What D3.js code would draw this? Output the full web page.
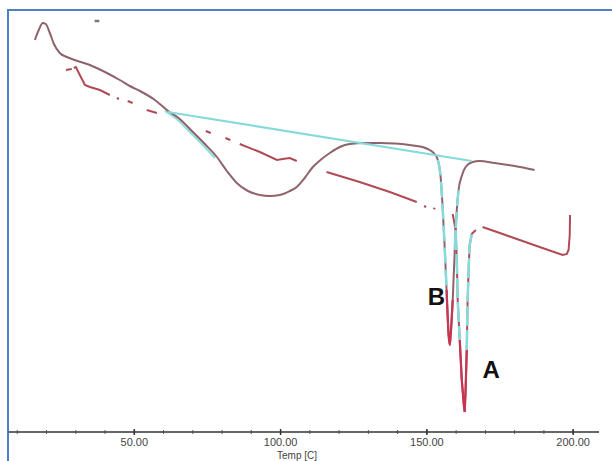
<!DOCTYPE html>
<html>
<head>
<meta charset="utf-8">
<script src="https://cdn.jsdelivr.net/npm/d3@7"></script>
<style>
  body { margin: 0; background: #fff; }
  text { font-family: "Liberation Sans", Arial, sans-serif; }
</style>
</head>
<body>
<div id="chart"></div>
<script>
// DSC thermogram, temperature in C, heat flow in arbitrary units (no y axis shown)

// curve B - solid trace with the broad endotherm near 95 C
var bTemp = [16.2,17.5,18.9,19.9,21.3,22.7,24.7,27.1,29.8,35.0,40.8,45.2,48.6,52.1,57.2,61.3,65.7,70.2,74.3,78.4,
  81.8,85.2,89.0,93.1,96.5,99.9,103.3,105.7,108.4,111.2,114.2,117.0,120.4,123.8,128.9,134.1,139.2,144.3,148.7,151.1,
  152.8,153.9,154.9,155.6,156.3,156.9,157.3,157.6,158.0,158.3,159.0,159.7,160.4,161.0,162.1,163.4,165.8,168.2,173.3,180.2,187.0];
var bFlow = [39.2,40.2,40.9,40.8,39.9,38.8,37.9,37.5,37.2,36.7,35.9,35.2,34.6,34.1,33.2,32.2,31.3,30.0,28.8,27.5,
  26.1,24.9,24.1,23.7,23.6,23.7,24.1,24.5,25.4,26.5,27.3,27.9,28.5,28.8,28.9,28.9,28.85,28.7,28.5,28.2,
  27.8,27.2,25.4,22.2,18.2,14.2,11.4,9.7,8.7,9.7,13.2,18.2,22.2,24.2,25.6,26.5,27.0,27.1,26.9,26.6,26.2];

// curve A - broken (dash-dot) trace, null = gap in the recorded line
var aTemp = [26.8,28.8,null,29.5,30.2,31.2,33.3,35.0,38.4,41.8,null,44.2,44.9,null,47.9,49.6,null,54.4,57.9,null,
  74.6,76.3,null,81.3,83.0,null,86.2,93.1,98.9,100.9,103.3,105.7,null,115.9,127.2,137.5,146.7,null,149.2,149.9,null,
  152.4,153.0,null,159.0,160.0,160.4,160.7,161.4,162.1,162.8,163.1,163.4,163.8,164.1,164.5,164.8,165.5,166.9,null,
  169.2,175.1,181.9,188.7,196.6,198.0,198.6,199.0,199.1];
var aFlow = [36.2,36.3,null,36.4,36.5,35.9,34.7,34.5,34.2,33.7,null,33.4,33.3,null,33.1,32.9,null,32.2,31.9,null,
  30.1,29.9,null,29.4,29.2,null,28.8,28.0,27.2,27.3,27.4,27.1,null,26.0,25.0,24.0,23.0,null,22.6,22.5,null,
  22.4,22.3,null,21.8,20.2,17.2,13.2,9.2,5.2,2.7,2.0,4.2,8.2,13.2,16.7,18.7,19.8,20.2,null,
  20.5,19.9,19.2,18.5,17.7,17.8,18.2,19.7,21.7];

// integration baseline drawn by the software
var baseTemp = [61.6, 165.5];
var baseFlow = [32.0, 27.1];

// small stray mark near top
var markTemp = [36.6, 38.2];
var markFlow = [41.1, 41.1];

var majorTicks = [50, 100, 150, 200];
var minorTicks = d3.range(10, 210, 10);

var peakLabels = [
  {name: "B", t: 150.5, v: 12.7},
  {name: "A", t: 169.2, v: 5.4}
];

var svgWidth = 612, svgHeight = 461;
var axisY = 432;

var svg = d3.select("#chart").append("svg")
  .attr("width", svgWidth)
  .attr("height", svgHeight);

var x = d3.scaleLinear().domain([7, 209]).range([8, 599]);
var y = d3.scaleLinear().domain([0, 42.2]).range([axisY, 10]);

var bData = bTemp.map(function(t, i) { return {t: t, v: bFlow[i]}; });
var aData = aTemp.map(function(t, i) { return {t: t, v: aFlow[i]}; });
var baseData = baseTemp.map(function(t, i) { return {t: t, v: baseFlow[i]}; });
var markData = markTemp.map(function(t, i) { return {t: t, v: markFlow[i]}; });

function lineWhere(pred, curve) {
  return d3.line()
    .defined(function(d) { return d.v != null && pred(d); })
    .x(function(d) { return x(d.t); })
    .y(function(d) { return y(d.v); })
    .curve(curve || d3.curveLinear);
}
var all = function() { return true; };

// frame
svg.append("rect")
  .attr("x", 8).attr("y", 10)
  .attr("width", 620).attr("height", 470)
  .attr("fill", "none")
  .attr("stroke", "#4f7fc4")
  .attr("stroke-width", 2);

// cyan following curve B at start of the broad peak (slightly offset)
svg.append("path")
  .datum(bData)
  .attr("d", lineWhere(function(d) { return d.t >= 61 && d.t <= 79; }, d3.curveMonotoneX))
  .attr("transform", "translate(-2,1)")
  .attr("fill", "none")
  .attr("stroke", "#8fdedd")
  .attr("stroke-width", 2);

// curve B
svg.append("path")
  .datum(bData)
  .attr("d", lineWhere(all, d3.curveMonotoneX))
  .attr("fill", "none")
  .attr("stroke", "#8e6369")
  .attr("stroke-width", 2);

// curve A
svg.append("path")
  .datum(aData)
  .attr("d", lineWhere(all))
  .attr("fill", "none")
  .attr("stroke", "#b04a57")
  .attr("stroke-width", 2);

// baseline
svg.append("path")
  .datum(baseData)
  .attr("d", lineWhere(all))
  .attr("fill", "none")
  .attr("stroke", "#86dadb")
  .attr("stroke-width", 2.2);

// cyan on the peak flanks
svg.append("path")
  .datum(bData)
  .attr("d", lineWhere(function(d) { return d.t >= 153.5 && d.t <= 161.5 && d.v >= 14; }, d3.curveMonotoneX))
  .attr("fill", "none")
  .attr("stroke", "#86dadb")
  .attr("stroke-width", 2.5)
  .attr("stroke-dasharray", "16 6");

svg.append("path")
  .datum(aData)
  .attr("d", lineWhere(function(d) { return d.t >= 159.5 && d.t <= 166 && d.v >= 8; }))
  .attr("fill", "none")
  .attr("stroke", "#86dadb")
  .attr("stroke-width", 2.5)
  .attr("stroke-dasharray", "20 4");

// red tips of the melting peaks
svg.append("path")
  .datum(bData)
  .attr("d", lineWhere(function(d) { return d.t >= 156.5 && d.t <= 159.5 && d.v <= 16; }, d3.curveMonotoneX))
  .attr("fill", "none")
  .attr("stroke", "#c63552")
  .attr("stroke-width", 2.2);

svg.append("path")
  .datum(aData)
  .attr("d", lineWhere(function(d) { return d.t >= 161 && d.t <= 164.2 && d.v <= 10; }))
  .attr("fill", "none")
  .attr("stroke", "#c63552")
  .attr("stroke-width", 2.2);

// stray mark
svg.append("path")
  .datum(markData)
  .attr("d", lineWhere(all))
  .attr("fill", "none")
  .attr("stroke", "#777")
  .attr("stroke-width", 2.5);

// peak labels
svg.selectAll(".peak")
  .data(peakLabels)
  .enter()
  .append("text")
  .attr("class", "peak")
  .attr("x", function(d) { return x(d.t); })
  .attr("y", function(d) { return y(d.v); })
  .attr("font-size", "24px")
  .attr("font-weight", "bold")
  .attr("fill", "#111")
  .text(function(d) { return d.name; });

// x axis
var axisG = svg.append("g")
  .attr("transform", "translate(0," + axisY + ")");

axisG.append("line")
  .attr("x1", x.range()[0]).attr("x2", x.range()[1])
  .attr("stroke", "#666")
  .attr("stroke-width", 2);

axisG.append("g")
  .call(d3.axisBottom(x).tickValues(minorTicks).tickSize(2).tickFormat(""))
  .call(function(g) {
    g.select(".domain").remove();
    g.selectAll(".tick line").attr("y1", -2).attr("stroke", "#555");
  });

var majorAxis = axisG.append("g")
  .call(d3.axisBottom(x).tickValues(majorTicks).tickSize(3).tickPadding(3).tickFormat(d3.format(".2f")));
majorAxis.select(".domain").remove();
majorAxis.selectAll(".tick line").attr("y1", -3).attr("stroke", "#333").attr("stroke-width", 1.5);
majorAxis.selectAll(".tick text")
  .attr("font-size", "11px")
  .attr("font-family", "Liberation Sans, Arial, sans-serif")
  .attr("fill", "#444");

svg.append("text")
  .attr("x", 297)
  .attr("y", 459)
  .attr("text-anchor", "middle")
  .attr("font-size", "10px")
  .attr("fill", "#444")
  .text("Temp [C]");
</script>
</body>
</html>
